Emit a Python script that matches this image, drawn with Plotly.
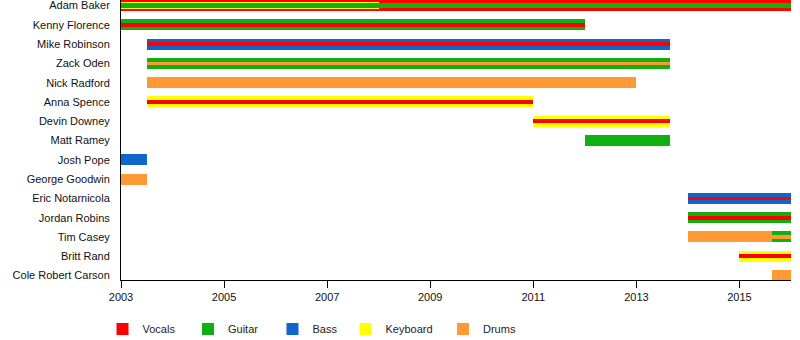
import plotly.graph_objects as go

# ---- data ----
members = ["Adam Baker", "Kenny Florence", "Mike Robinson", "Zack Oden", "Nick Radford",
           "Anna Spence", "Devin Downey", "Matt Ramey", "Josh Pope", "George Goodwin",
           "Eric Notarnicola", "Jordan Robins", "Tim Casey", "Britt Rand", "Cole Robert Carson"]
roles = ["Vocals", "Guitar", "Bass", "Keyboard", "Drums"]

seg_member = ["Adam Baker", "Adam Baker", "Adam Baker",
              "Kenny Florence", "Kenny Florence",
              "Mike Robinson", "Mike Robinson",
              "Zack Oden", "Zack Oden",
              "Nick Radford",
              "Anna Spence", "Anna Spence",
              "Devin Downey", "Devin Downey",
              "Matt Ramey",
              "Josh Pope",
              "George Goodwin",
              "Eric Notarnicola", "Eric Notarnicola",
              "Jordan Robins", "Jordan Robins",
              "Tim Casey", "Tim Casey", "Tim Casey",
              "Britt Rand", "Britt Rand",
              "Cole Robert Carson"]
seg_role = ["Vocals", "Keyboard", "Guitar",
            "Guitar", "Vocals",
            "Bass", "Vocals",
            "Guitar", "Drums",
            "Drums",
            "Keyboard", "Vocals",
            "Keyboard", "Vocals",
            "Guitar",
            "Bass",
            "Drums",
            "Bass", "Vocals",
            "Guitar", "Vocals",
            "Drums", "Guitar", "Drums",
            "Keyboard", "Vocals",
            "Drums"]
seg_start = [2003.0, 2003.0, 2003.0,
             2003.0, 2003.0,
             2003.5, 2003.5,
             2003.5, 2003.5,
             2003.5,
             2003.5, 2003.5,
             2011.0, 2011.0,
             2012.0,
             2003.0,
             2003.0,
             2014.0, 2014.0,
             2014.0, 2014.0,
             2014.0, 2015.63, 2015.63,
             2015.0, 2015.0,
             2015.63]
seg_end = [2016.0, 2008.0, 2016.0,
           2012.0, 2012.0,
           2013.66, 2013.66,
           2013.66, 2013.66,
           2013.0,
           2011.0, 2011.0,
           2013.66, 2013.66,
           2013.66,
           2003.5,
           2003.5,
           2016.0, 2016.0,
           2016.0, 2016.0,
           2015.63, 2016.0, 2016.0,
           2016.0, 2016.0,
           2016.0]
# layer: primary role = "main", secondary = "sub"/"mid"/"line"
seg_layer = ["main", "sub", "mid",
             "main", "line",
             "main", "line",
             "main", "line",
             "main",
             "main", "line",
             "main", "line",
             "main",
             "main",
             "main",
             "main", "line",
             "main", "line",
             "main", "main", "line",
             "main", "line",
             "main"]
x_ticks = [2003, 2005, 2007, 2009, 2011, 2013, 2015]

# ---- styles ----
role_colors = {"Vocals": "#FF0000", "Guitar": "#11B011", "Bass": "#1166CC",
               "Keyboard": "#FFFF00", "Drums": "#FF9933"}
layer_width = {"main": 0.57, "sub": 0.37, "mid": 0.25, "line": 0.19}
layer_order = ["main", "sub", "mid", "line"]
legend_centers = [123.5, 209, 293.5, 366.5, 464]  # px of legend squares

PLOT_L, PLOT_R, PLOT_B = 121, 791, 280
W, H = 800, 340

fig = go.Figure()
shown = set()
for layer in layer_order:
    for role in roles:
        idx = [i for i in range(len(seg_member)) if seg_role[i] == role and seg_layer[i] == layer]
        if not idx:
            continue
        li = roles.index(role)
        lname = "legend" if li == 0 else f"legend{li + 1}"
        fig.add_trace(go.Bar(
            orientation="h",
            y=[seg_member[i] for i in idx],
            base=[seg_start[i] for i in idx],
            x=[seg_end[i] - seg_start[i] for i in idx],
            width=layer_width[layer],
            marker=dict(color=role_colors[role], line=dict(width=0)),
            name=role,
            legendgroup=role,
            legend=lname,
            showlegend=role not in shown,
            hoverinfo="skip",
        ))
        shown.add(role)

legends = {}
for li, c in enumerate(legend_centers):
    key = "legend" if li == 0 else f"legend{li + 1}"
    legends[key] = dict(
        xref="container", yref="container",
        x=(c - 21) / W, xanchor="left",
        y=1 - 329 / H, yanchor="middle",
        orientation="h", bgcolor="rgba(0,0,0,0)", borderwidth=0,
        font=dict(family="Liberation Sans, Arial", size=11, color="#222"),
        itemclick=False, itemdoubleclick=False,
    )

n = len(members)
fig.update_layout(
    width=W, height=H,
    margin=dict(l=PLOT_L, r=W - PLOT_R, t=0, b=H - PLOT_B, autoexpand=False),
    paper_bgcolor="white", plot_bgcolor="white",
    barmode="overlay",
    bargap=0,
    font=dict(family="Liberation Sans, Arial", size=11, color="#111"),
    xaxis=dict(range=[2003, 2016], tickvals=x_ticks, ticktext=[str(t) for t in x_ticks],
               showgrid=False, zeroline=False, showline=True, linecolor="black", linewidth=1,
               ticks="outside", ticklen=7, tickcolor="black",
               tickfont=dict(size=11, color="#111")),
    yaxis=dict(type="category", categoryorder="array", categoryarray=members,
               range=[n - 1 + 0.23, -0.285], showgrid=False, zeroline=False,
               showline=True, linecolor="black", linewidth=1, ticks="",
               ticklabelstandoff=8, tickfont=dict(size=11, color="#111")),
    **legends,
)

fig.write_html("out.html")
